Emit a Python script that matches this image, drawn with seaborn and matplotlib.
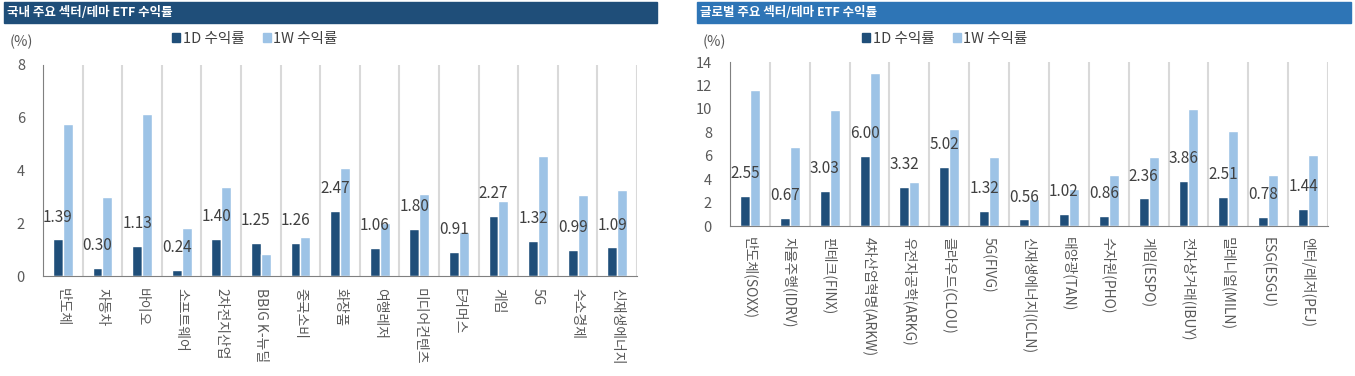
import pandas as pd
import matplotlib.pyplot as plt
import seaborn as sns
from matplotlib.patches import Rectangle
from matplotlib.ticker import FixedLocator

# datos: ETF domesticos
kr_categorias = ['반도체', '자동차', '바이오', '소프트웨어', '2차전지산업', 'BBIG K-뉴딜',
                 '중국소비', '화장품', '여행레저', '미디어컨텐츠', 'E커머스', '게임', '5G',
                 '수소경제', '신재생에너지']
kr_1d = [1.39, 0.30, 1.13, 0.24, 1.40, 1.25, 1.26, 2.47, 1.06, 1.80, 0.91, 2.27, 1.32, 0.99, 1.09]
kr_1w = [5.76, 2.99, 6.16, 1.82, 3.37, 0.85, 1.48, 4.09, 2.00, 3.12, 1.67, 2.84, 4.55, 3.06, 3.27]

# datos: ETF globales
gl_categorias = ['반도체(SOXX)', '자율주행(IDRV)', '핀테크(FINX)', '4차산업혁명(ARKW)',
                 '유전자공학(ARKG)', '클라우드(CLOU)', '5G(FIVG)', '신재생에너지(ICLN)',
                 '태양광(TAN)', '수자원(PHO)', '게임(ESPO)', '전자상거래(IBUY)',
                 '밀레니얼(MILN)', 'ESG(ESGU)', '엔터/레저(PEJ)']
gl_1d = [2.55, 0.67, 3.03, 6.00, 3.32, 5.02, 1.32, 0.56, 1.02, 0.86, 2.36, 3.86, 2.51, 0.78, 1.44]
gl_1w = [11.6, 6.77, 9.88, 13.1, 3.76, 8.28, 5.90, 2.30, 3.16, 4.36, 5.90, 10.0, 8.14, 4.36, 6.06]

series = ['1D 수익률', '1W 수익률']
colores = ['#1F4E79', '#9DC3E6']
gris = '#595959'

sns.set_theme(style='white')
plt.rcParams['font.family'] = ['Noto Sans CJK KR', 'DejaVu Sans']

W, H = 1355, 376
fig = plt.figure(figsize=(W / 100, H / 100), dpi=100)


def px_axes(x0, y0, x1, y1):
    return fig.add_axes([x0 / W, 1 - y1 / H, (x1 - x0) / W, (y1 - y0) / H])


def panel(ax, cats, d1, d1w, ymax, ystep, label_pad):
    df = pd.DataFrame({
        'cat': cats * 2,
        'serie': [series[0]] * len(cats) + [series[1]] * len(cats),
        'valor': d1 + d1w,
    })
    sns.barplot(data=df, x='cat', y='valor', hue='serie', order=cats,
                hue_order=series, palette=colores, width=0.5, ax=ax,
                legend=False, saturation=1)
    ax.set_xlim(-0.5, len(cats) - 0.5)
    ax.set_ylim(0, ymax)
    ax.set_yticks(range(0, ymax + 1, ystep))
    ax.set_xlabel('')
    ax.set_ylabel('')

    # lineas verticales entre categorias
    ax.xaxis.set_minor_locator(FixedLocator([i - 0.5 for i in range(len(cats) + 1)]))
    ax.grid(which='minor', axis='x', color='#d9d9d9', linewidth=1.5)
    ax.grid(which='major', visible=False)
    ax.tick_params(axis='x', which='major', length=0, pad=label_pad,
                   labelsize=10, labelcolor=gris)
    ax.tick_params(axis='x', which='minor', length=4, direction='in',
                   color='#808080', width=0.8)
    ax.tick_params(axis='y', which='major', length=3, direction='out',
                   color='#808080', width=0.8, labelsize=10.5, labelcolor=gris, pad=10)
    for lbl in ax.get_xticklabels():
        lbl.set_rotation(-90)
        lbl.set_va('top')
        lbl.set_ha('center')

    for s in ['top', 'right']:
        ax.spines[s].set_visible(False)
    for s in ['left', 'bottom']:
        ax.spines[s].set_color('#808080')
        ax.spines[s].set_linewidth(0.8)

    # etiquetas sobre las barras 1D
    for bar, v in zip(ax.patches[:len(cats)], d1):
        ax.annotate(f'{v:.2f}', (bar.get_x() + bar.get_width() / 2, v),
                    xytext=(0, 16), textcoords='offset points',
                    ha='center', va='center', fontsize=11, color='#404040')


ax1 = px_axes(43, 65, 637, 276)
panel(ax1, kr_categorias, kr_1d, kr_1w, 8, 2, 9)

ax2 = px_axes(730, 62, 1328, 226)
panel(ax2, gl_categorias, gl_1d, gl_1w, 14, 2, 8)

# barras de titulo
titulos = [('국내 주요 섹터/테마 ETF 수익률', 4, 657, '#1F4E79'),
           ('글로벌 주요 섹터/테마 ETF 수익률', 697, 1351, '#2E75B6')]
for txt, x0, x1, col in titulos:
    fig.patches.append(Rectangle((x0 / W, 1 - 23 / H), (x1 - x0) / W, 21 / H,
                                 transform=fig.transFigure, color=col, zorder=0))
    fig.text((x0 + 3) / W, 1 - 12.5 / H, txt, color='white', fontsize=9,
             weight='bold', va='center', ha='left')

# unidades y leyendas
for xu, xl in [(10, 255), (703, 945)]:
    fig.text(xu / W, 1 - 42 / H, '(%)', color=gris, fontsize=10.5, va='center')
    handles = [Rectangle((0, 0), 1, 1, color=c) for c in colores]
    fig.legend(handles, series, loc='center', bbox_to_anchor=(xl / W, 1 - 39 / H),
               ncol=2, frameon=False, fontsize=10.5, handlelength=0.55,
               handleheight=0.55, handletextpad=0.15, columnspacing=1.3,
               labelcolor='#404040')

plt.savefig('out.png', dpi=100)
